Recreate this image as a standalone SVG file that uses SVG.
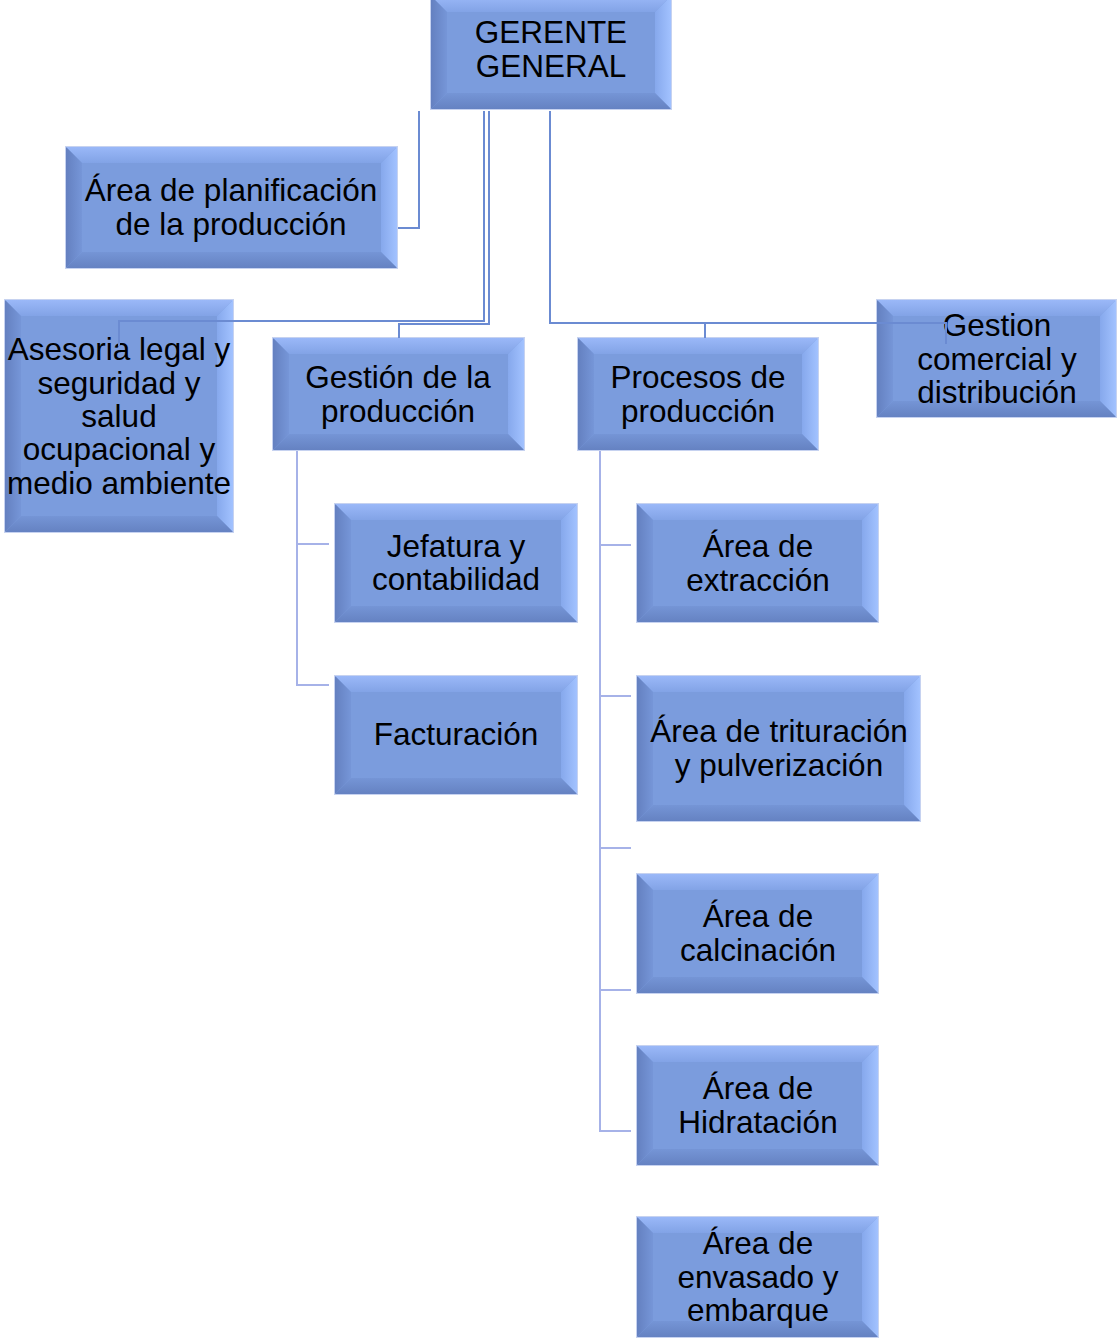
<svg xmlns="http://www.w3.org/2000/svg" width="1118" height="1338" viewBox="0 0 1118 1338">
<defs>
<linearGradient id="gT" x1="0" y1="0" x2="0" y2="1"><stop offset="0" stop-color="#9ab8f8"/><stop offset="1" stop-color="#82a3e6"/></linearGradient>
<linearGradient id="gL" x1="0" y1="0" x2="1" y2="0"><stop offset="0" stop-color="#6480c0"/><stop offset="1" stop-color="#7696d8"/></linearGradient>
<linearGradient id="gR" x1="0" y1="0" x2="1" y2="0"><stop offset="0" stop-color="#86a8ec"/><stop offset="1" stop-color="#a2c2ff"/></linearGradient>
<linearGradient id="gB" x1="0" y1="0" x2="0" y2="1"><stop offset="0" stop-color="#7595d6"/><stop offset="1" stop-color="#6582c2"/></linearGradient>
</defs>
<style>
.o{fill:#7b9cdd;stroke:#c6d2f0;stroke-width:2}
.t{fill:url(#gT)}.l{fill:url(#gL)}.r{fill:url(#gR)}.b{fill:url(#gB)}
.tx{font-family:"Liberation Sans",Arial,sans-serif;font-size:31.5px;fill:#000;text-anchor:middle}
.c1{fill:none;stroke:#6b8bd2;stroke-width:2}
.c2{fill:none;stroke:#a6b2e8;stroke-width:2}
</style>
<rect width="1118" height="1338" fill="#fff"/>

<g id="n-gerente">
<rect class="o" x="431" y="-4" width="240" height="113"/>
<polygon class="t" points="431,-4 671,-4 655,12 447,12"/>
<polygon class="l" points="431,-4 447,12 447,93 431,109"/>
<polygon class="r" points="671,-4 671,109 655,93 655,12"/>
<polygon class="b" points="431,109 447,93 655,93 671,109"/>
<text class="tx" x="551" y="43">GERENTE</text><text class="tx" x="551" y="77">GENERAL</text>
</g>

<g id="n-planificacion">
<rect class="o" x="66" y="147" width="331" height="121"/>
<polygon class="t" points="66,147 397,147 381,163 82,163"/>
<polygon class="l" points="66,147 82,163 82,252 66,268"/>
<polygon class="r" points="397,147 397,268 381,252 381,163"/>
<polygon class="b" points="66,268 82,252 381,252 397,268"/>
<text class="tx" x="231" y="201">Área de planificación</text><text class="tx" x="231" y="235">de la producción</text>
</g>

<g id="n-asesoria">
<rect class="o" x="5" y="300" width="228" height="232"/>
<polygon class="t" points="5,300 233,300 217,316 21,316"/>
<polygon class="l" points="5,300 21,316 21,516 5,532"/>
<polygon class="r" points="233,300 233,532 217,516 217,316"/>
<polygon class="b" points="5,532 21,516 217,516 233,532"/>
<text class="tx" x="119" y="360">Asesoria legal y</text><text class="tx" x="119" y="394">seguridad y</text><text class="tx" x="119" y="427">salud</text><text class="tx" x="119" y="460">ocupacional y</text><text class="tx" x="119" y="494">medio ambiente</text>
</g>

<g id="n-gestion">
<rect class="o" x="273" y="338" width="251" height="112"/>
<polygon class="t" points="273,338 524,338 508,354 289,354"/>
<polygon class="l" points="273,338 289,354 289,434 273,450"/>
<polygon class="r" points="524,338 524,450 508,434 508,354"/>
<polygon class="b" points="273,450 289,434 508,434 524,450"/>
<text class="tx" x="398" y="388">Gestión de la</text><text class="tx" x="398" y="422">producción</text>
</g>

<g id="n-procesos">
<rect class="o" x="578" y="338" width="240" height="112"/>
<polygon class="t" points="578,338 818,338 802,354 594,354"/>
<polygon class="l" points="578,338 594,354 594,434 578,450"/>
<polygon class="r" points="818,338 818,450 802,434 802,354"/>
<polygon class="b" points="578,450 594,434 802,434 818,450"/>
<text class="tx" x="698" y="388">Procesos de</text><text class="tx" x="698" y="422">producción</text>
</g>

<g id="n-comercial">
<rect class="o" x="877" y="300" width="239" height="117"/>
<polygon class="t" points="877,300 1116,300 1100,316 893,316"/>
<polygon class="l" points="877,300 893,316 893,401 877,417"/>
<polygon class="r" points="1116,300 1116,417 1100,401 1100,316"/>
<polygon class="b" points="877,417 893,401 1100,401 1116,417"/>
<text class="tx" x="997" y="336">Gestion</text><text class="tx" x="997" y="370">comercial y</text><text class="tx" x="997" y="403">distribución</text>
</g>

<g id="n-jefatura">
<rect class="o" x="335" y="504" width="242" height="118"/>
<polygon class="t" points="335,504 577,504 561,520 351,520"/>
<polygon class="l" points="335,504 351,520 351,606 335,622"/>
<polygon class="r" points="577,504 577,622 561,606 561,520"/>
<polygon class="b" points="335,622 351,606 561,606 577,622"/>
<text class="tx" x="456" y="557">Jefatura y</text><text class="tx" x="456" y="590">contabilidad</text>
</g>

<g id="n-facturacion">
<rect class="o" x="335" y="676" width="242" height="118"/>
<polygon class="t" points="335,676 577,676 561,692 351,692"/>
<polygon class="l" points="335,676 351,692 351,778 335,794"/>
<polygon class="r" points="577,676 577,794 561,778 561,692"/>
<polygon class="b" points="335,794 351,778 561,778 577,794"/>
<text class="tx" x="456" y="745">Facturación</text>
</g>

<g id="n-extraccion">
<rect class="o" x="637" y="504" width="241" height="118"/>
<polygon class="t" points="637,504 878,504 862,520 653,520"/>
<polygon class="l" points="637,504 653,520 653,606 637,622"/>
<polygon class="r" points="878,504 878,622 862,606 862,520"/>
<polygon class="b" points="637,622 653,606 862,606 878,622"/>
<text class="tx" x="758" y="557">Área de</text><text class="tx" x="758" y="591">extracción</text>
</g>

<g id="n-trituracion">
<rect class="o" x="637" y="676" width="283" height="145"/>
<polygon class="t" points="637,676 920,676 904,692 653,692"/>
<polygon class="l" points="637,676 653,692 653,805 637,821"/>
<polygon class="r" points="920,676 920,821 904,805 904,692"/>
<polygon class="b" points="637,821 653,805 904,805 920,821"/>
<text class="tx" x="779" y="742">Área de trituración</text><text class="tx" x="779" y="776">y pulverización</text>
</g>

<g id="n-calcinacion">
<rect class="o" x="637" y="874" width="241" height="119"/>
<polygon class="t" points="637,874 878,874 862,890 653,890"/>
<polygon class="l" points="637,874 653,890 653,977 637,993"/>
<polygon class="r" points="878,874 878,993 862,977 862,890"/>
<polygon class="b" points="637,993 653,977 862,977 878,993"/>
<text class="tx" x="758" y="927">Área de</text><text class="tx" x="758" y="961">calcinación</text>
</g>

<g id="n-hidratacion">
<rect class="o" x="637" y="1046" width="241" height="119"/>
<polygon class="t" points="637,1046 878,1046 862,1062 653,1062"/>
<polygon class="l" points="637,1046 653,1062 653,1149 637,1165"/>
<polygon class="r" points="878,1046 878,1165 862,1149 862,1062"/>
<polygon class="b" points="637,1165 653,1149 862,1149 878,1165"/>
<text class="tx" x="758" y="1099">Área de</text><text class="tx" x="758" y="1133">Hidratación</text>
</g>

<g id="n-envasado">
<rect class="o" x="637" y="1217" width="241" height="120"/>
<polygon class="t" points="637,1217 878,1217 862,1233 653,1233"/>
<polygon class="l" points="637,1217 653,1233 653,1321 637,1337"/>
<polygon class="r" points="878,1217 878,1337 862,1321 862,1233"/>
<polygon class="b" points="637,1337 653,1321 862,1321 878,1337"/>
<text class="tx" x="758" y="1254">Área de</text><text class="tx" x="758" y="1288">envasado y</text><text class="tx" x="758" y="1321">embarque</text>
</g>

<g id="connectors">
<path class="c1" d="M419,111 V228 H398"/>
<path class="c1" d="M484,111 V321 H119 V346"/>
<path class="c1" d="M489,111 V324 H399 V338"/>
<path class="c1" d="M550,111 V323 H946 V344"/>
<path class="c1" d="M705,323 V338"/>
<path class="c2" d="M297,451 V685 H329"/>
<path class="c2" d="M297,544 H329"/>
<path class="c2" d="M600,451 V1131 H631"/>
<path class="c2" d="M600,545 H631 M600,696 H631 M600,848 H631 M600,990 H631"/>
</g>
</svg>
